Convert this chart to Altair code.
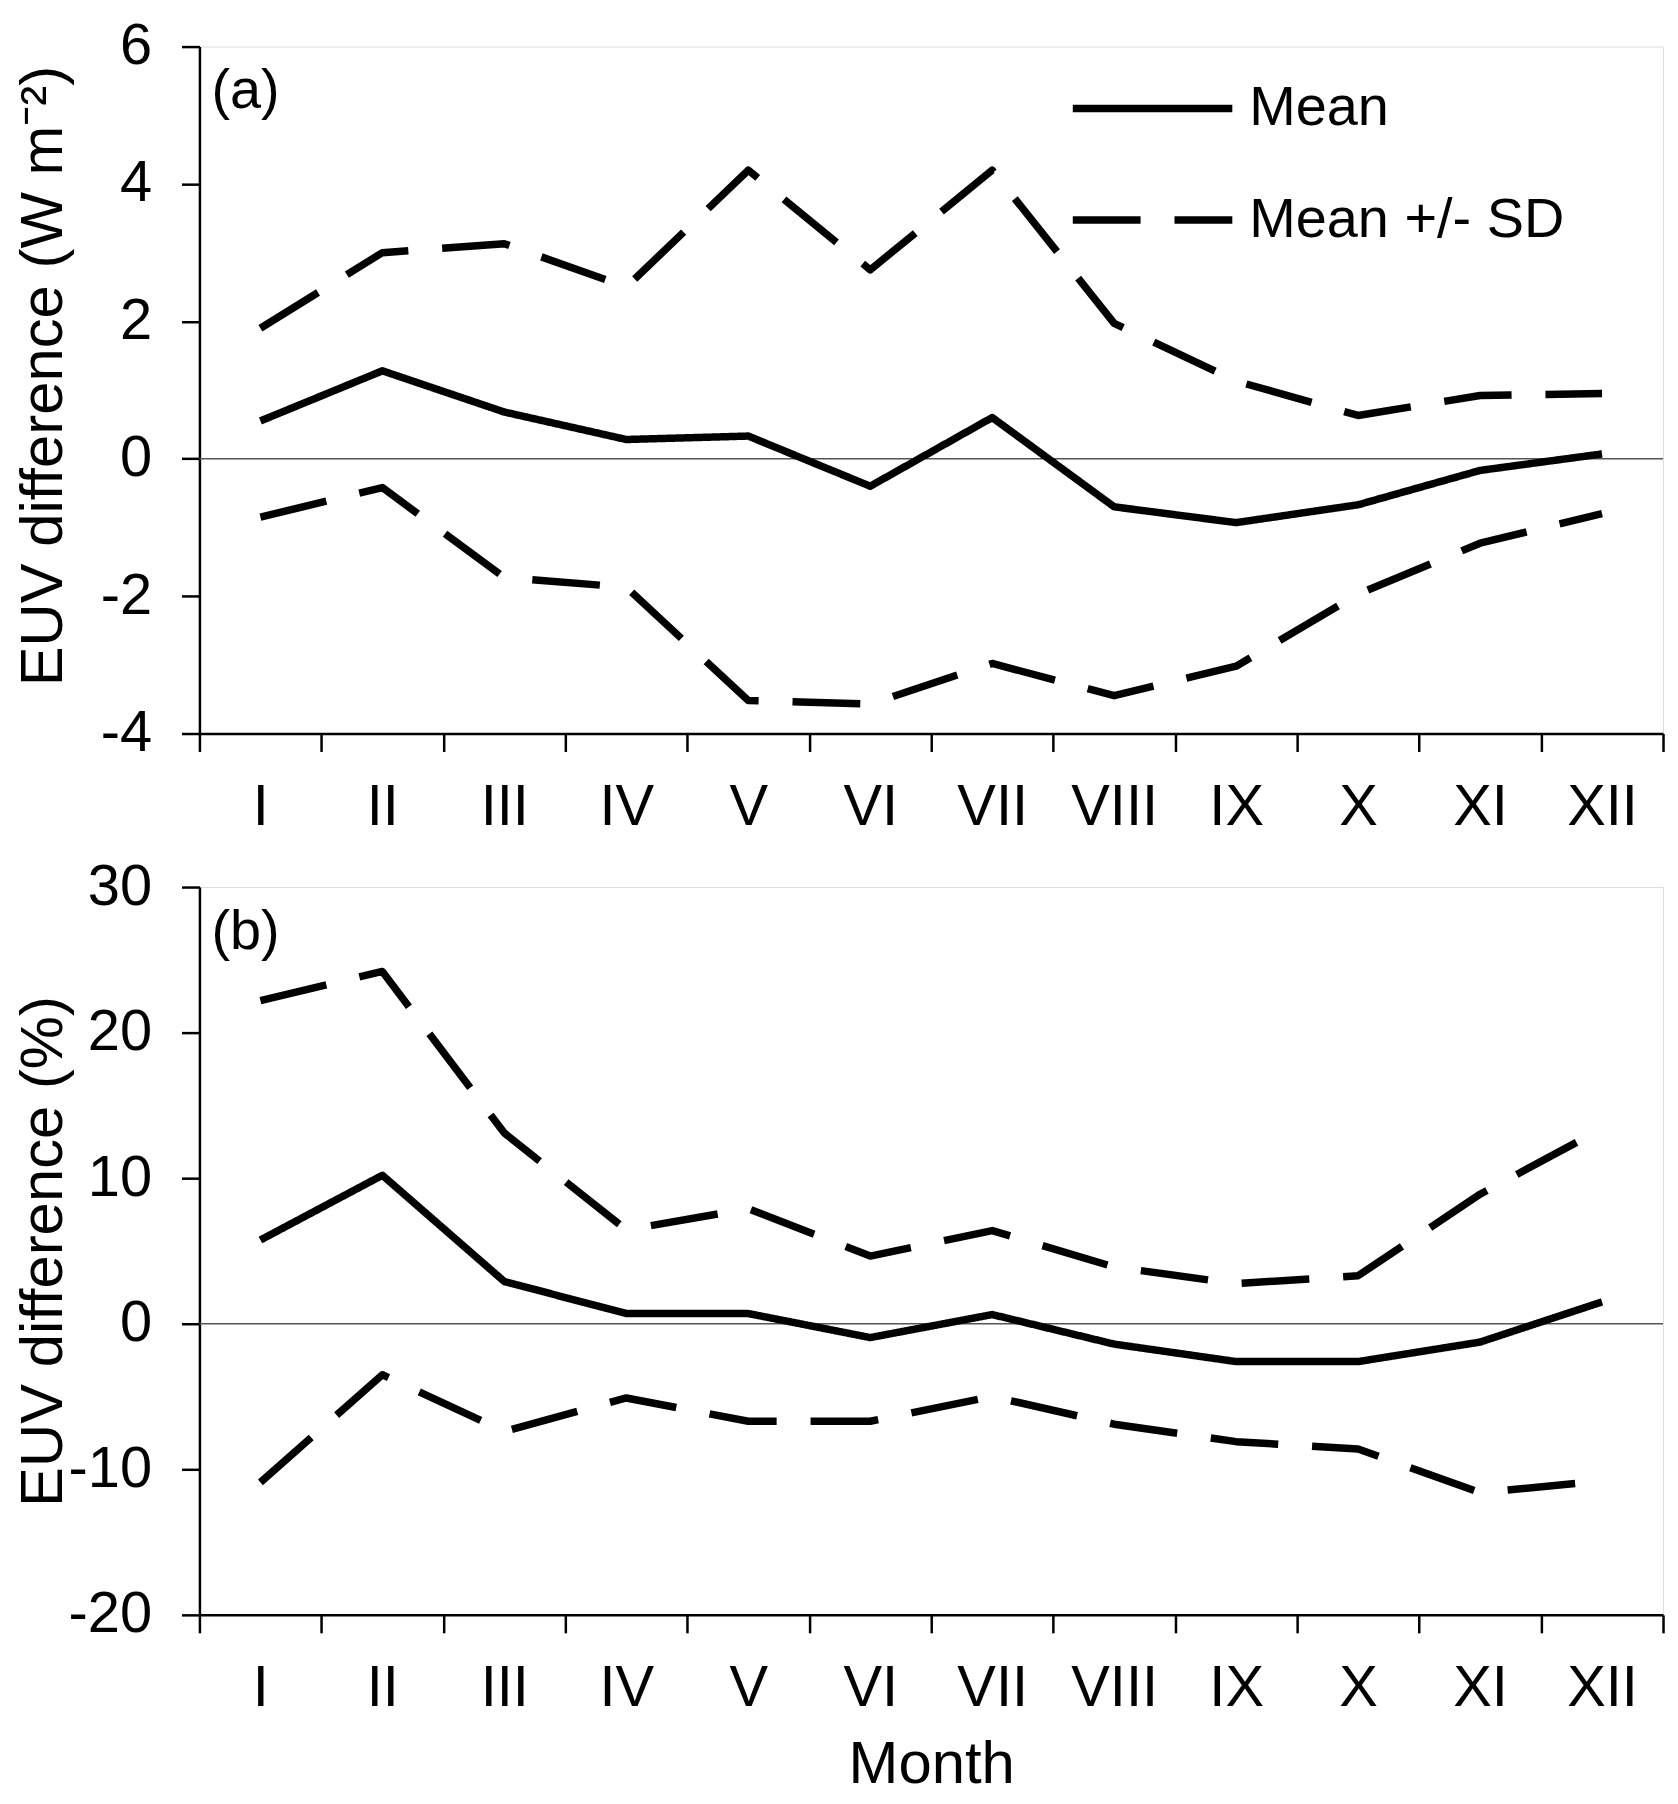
import altair as alt
import pandas as pd

months = ["I", "II", "III", "IV", "V", "VI", "VII", "VIII", "IX", "X", "XI", "XII"]

# Panel (a): EUV difference in W m-2
a_mean = [0.55, 1.28, 0.68, 0.28, 0.33, -0.40, 0.60, -0.70, -0.93, -0.67, -0.17, 0.07]
a_upper = [1.90, 3.00, 3.13, 2.50, 4.20, 2.75, 4.20, 1.97, 1.13, 0.63, 0.92, 0.95]
a_lower = [-0.85, -0.42, -1.73, -1.87, -3.52, -3.57, -2.98, -3.45, -3.02, -1.97, -1.23, -0.80]

# Panel (b): EUV difference in %
b_mean = [5.75, 10.2, 2.9, 0.7, 0.7, -0.95, 0.63, -1.4, -2.6, -2.6, -1.26, 1.5]
b_upper = [22.2, 24.2, 13.1, 6.45, 7.9, 4.65, 6.4, 3.9, 2.75, 3.3, 8.9, 13.4]
b_lower = [-10.9, -3.5, -7.4, -5.1, -6.7, -6.7, -5.0, -6.9, -8.1, -8.6, -11.6, -10.8]

a_ticks = [-4, -2, 0, 2, 4, 6]
b_ticks = [-20, -10, 0, 10, 20, 30]

FONT = "Liberation Sans"
DASH = [68, 34]


def long_table(mean, upper, lower):
    rows = []
    for name, kind, vals in [("Mean", "Mean", mean),
                             ("Upper", "Mean +/- SD", upper),
                             ("Lower", "Mean +/- SD", lower)]:
        for i, (m, v) in enumerate(zip(months, vals)):
            rows.append({"month": m, "mi": i, "series": name, "type": kind, "value": v})
    return pd.DataFrame(rows)


def panel(df, ticks, ytitle, label, width, height, title_y, show_legend, xtitle):
    x = alt.X(
        "month:N",
        sort=months,
        bandPosition=0.5,
        scale=alt.Scale(type="band", domain=months, paddingInner=0, paddingOuter=0),
        axis=alt.Axis(
            tickBand="extent", labelAngle=0, labelFontSize=58, labelFont=FONT,
            labelColor="black", labelPadding=27, tickSize=18, tickWidth=2.5,
            tickColor="black", domainColor="black", domainWidth=2.5, grid=False,
            title=xtitle, titleFontSize=60, titleFont=FONT, titleFontWeight="normal",
            titleColor="black", titlePadding=18,
        ),
    )
    y = alt.Y(
        "value:Q",
        scale=alt.Scale(domain=[ticks[0], ticks[-1]], nice=False, zero=False),
        axis=alt.Axis(
            values=ticks, labelExpr="'' + datum.value", labelFontSize=58,
            labelFont=FONT, labelColor="black", labelPadding=30, tickSize=18,
            tickWidth=2.5, tickColor="black", domainColor="black", domainWidth=2.5,
            grid=False, title=ytitle, titleFontSize=60, titleFont=FONT,
            titleFontWeight="normal", titleColor="black", titleAngle=270,
            titleBaseline="alphabetic", titleAlign="center", titleX=-138, titleY=title_y,
        ),
    )
    if show_legend:
        legend = alt.Legend(
            orient="none", legendX=872, legendY=-22, title=None, labelFontSize=56,
            labelFont=FONT, labelColor="black", symbolType="stroke",
            symbolSize=25600, symbolStrokeWidth=7.5, symbolStrokeColor="black",
            rowPadding=-15, labelOffset=13, padding=0, labelLimit=600,
        )
    else:
        legend = None
    lines = alt.Chart(df).mark_line(color="black", strokeWidth=7.5, strokeJoin="round").encode(
        x=x,
        y=y,
        strokeDash=alt.StrokeDash(
            "type:N",
            scale=alt.Scale(domain=["Mean", "Mean +/- SD"], range=[[1, 0], DASH]),
            legend=legend,
        ),
        detail="series:N",
        order=alt.Order("mi:Q"),
    )
    zero = alt.Chart(pd.DataFrame({"z": [0]})).mark_rule(color="#555555", strokeWidth=1.5).encode(
        y=alt.Y("z:Q")
    )
    tag = alt.Chart(pd.DataFrame({"t": [label]})).mark_text(
        align="left", baseline="alphabetic", fontSize=56, font=FONT, color="black"
    ).encode(x=alt.value(12), y=alt.value(62), text="t:N")
    return alt.layer(zero, lines, tag).properties(width=width, height=height)


pa = panel(long_table(a_mean, a_upper, a_lower), a_ticks, "EUV difference (W m\u207b\u00b2)",
           "(a)", 1468, 689, 330, True, None)
pb = panel(long_table(b_mean, b_upper, b_lower), b_ticks, "EUV difference (%)",
           "(b)", 1468, 730, 365, False, "Month")

chart = alt.vconcat(pa, pb, spacing=20).resolve_scale(strokeDash="independent").properties(
    padding={"left": 5, "top": 6, "right": 5, "bottom": 3}
).configure_view(stroke="black", strokeWidth=2.5).configure(background="white")

chart.save("out.html", embed_options={"renderer": "svg", "actions": False})
